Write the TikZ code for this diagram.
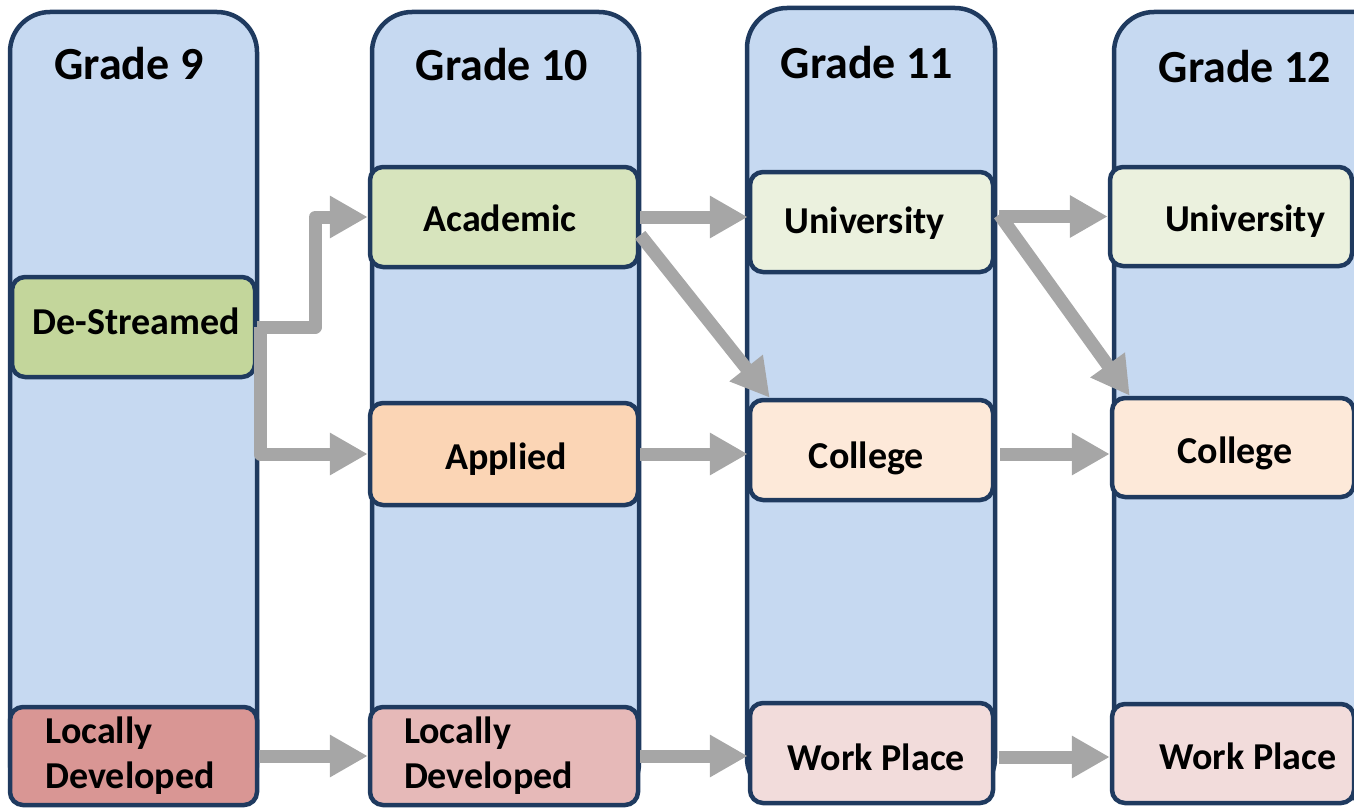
\documentclass[tikz,border=0pt]{standalone}
\usepackage{fontspec}
\setmainfont{Carlito}
\usetikzlibrary{arrows.meta}
\definecolor{colfill}{HTML}{C6D9F1}
\definecolor{navy}{HTML}{1F3A5F}
\definecolor{dsfill}{HTML}{C3D69B}
\definecolor{acfill}{HTML}{D7E4BD}
\definecolor{apfill}{HTML}{FBD5B5}
\definecolor{ldA}{HTML}{D99694}
\definecolor{ldB}{HTML}{E6B9B8}
\definecolor{unfill}{HTML}{EBF1DE}
\definecolor{cofill}{HTML}{FDE9D9}
\definecolor{wpfill}{HTML}{F2DCDB}
\definecolor{arrgray}{HTML}{A6A6A6}
\newcommand\shiftdown[2]{\raisebox{-#1}[\height][\depth]{#2}}
\tikzset{
  column/.style={draw=navy, line width=4.5pt, fill=colfill, rounded corners=40pt, inner sep=0pt},
  track/.style={draw=navy, line width=4.5pt, rounded corners=13pt, inner sep=0pt,
    font=\fontsize{38}{45}\selectfont\bfseries},
  gradetitle/.style={anchor=base, inner sep=0pt, font=\fontsize{46}{50}\selectfont\bfseries},
  arr/.style={draw=arrgray, line width=13pt, line join=round,
    -{Triangle[length=38pt,width=40pt]}}
}
\begin{document}
\begin{tikzpicture}[x=1pt,y=-1pt]
\useasboundingbox (0,0) rectangle (1354,808);
% columns
\node[column, minimum width=247pt, minimum height=791pt] (col9) at (133.5,407.5) {};
\node[column, minimum width=267pt, minimum height=791pt] (col10) at (505.5,407.5) {};
\node[column, minimum width=248pt, minimum height=790pt] (col11) at (871,403) {};
\node[column, minimum width=290pt, minimum height=786pt] (col12) at (1259,405) {};
% titles
\node[gradetitle] (g9) at (129,80) {Grade 9};
\node[gradetitle] (g10) at (502,81) {Grade 10};
\node[gradetitle] (g11) at (867,78) {Grade 11};
\node[gradetitle] (g12) at (1245,82) {Grade 12};
% tracks
\node[track, fill=dsfill, minimum width=243pt, minimum height=100pt] (ds) at (133.5,327) {\hspace*{5pt}\shiftdown{-6pt}{De-Streamed}};
\node[track, fill=acfill, minimum width=268pt, minimum height=100pt] (acad) at (504,217) {\shiftdown{1pt}{Academic}\hspace*{8pt}};
\node[track, fill=apfill, minimum width=268pt, minimum height=102pt] (appl) at (504,454) {\hspace*{4pt}\shiftdown{5pt}{Applied}};
\node[track, fill=ldA, minimum width=247pt, minimum height=98pt, text width=176pt, align=left] (ld9) at (133.5,756) {Locally\\Developed};
\node[track, fill=ldB, minimum width=268pt, minimum height=98pt, text width=200pt, align=left] (ld10) at (504,756) {Locally\\Developed};
\node[track, fill=unfill, minimum width=243pt, minimum height=100pt] (u11) at (871.5,222) {\shiftdown{1pt}{University}\hspace*{14pt}};
\node[track, fill=cofill, minimum width=243pt, minimum height=100pt] (c11) at (871.5,450) {\shiftdown{8pt}{College}\hspace*{10pt}};
\node[track, fill=wpfill, minimum width=243pt, minimum height=100pt] (w11) at (871.5,753) {\hspace*{10pt}\shiftdown{4pt}{Work Place}};
\node[track, fill=unfill, minimum width=242pt, minimum height=99pt] (u12) at (1231,216.5) {\hspace*{28pt}\shiftdown{5pt}{University}};
\node[track, fill=cofill, minimum width=242pt, minimum height=99pt] (c12) at (1233,447.5) {\hspace*{4pt}\shiftdown{6pt}{College}};
\node[track, fill=wpfill, minimum width=242pt, minimum height=99pt] (w12) at (1233,753.5) {\hspace*{30pt}\shiftdown{3pt}{Work Place}};
% arrows
\draw[arr] (ds.east) -- ++(58,0) |- (acad.west);
\draw[arr] ([xshift=3pt]ds.east) |- (appl.west);
\draw[arr] (acad.east) -- (acad.east -| u11.west);
\draw[arr] ([yshift=-18pt]acad.east) -- ([xshift=22pt]c11.north west);
\draw[arr] (appl.east) -- (appl.east -| c11.west);
\draw[arr] (ld9.east) -- (ld10.west);
\draw[arr] (ld10.east) -- (ld10.east -| w11.west);
\draw[arr] ([xshift=4pt]u11.east |- u12.west) -- (u12.west);
\draw[arr] ([xshift=4pt,yshift=2pt]u11.east |- u12.west) -- ([xshift=20pt]c12.north west);
\draw[arr] ([xshift=5pt,yshift=-4pt]c11.east) -- ([yshift=-4pt]c11.east -| c12.west);
\draw[arr] ([xshift=4pt,yshift=-4pt]w11.east) -- ([yshift=-4pt]w11.east -| w12.west);
\end{tikzpicture}
\end{document}
